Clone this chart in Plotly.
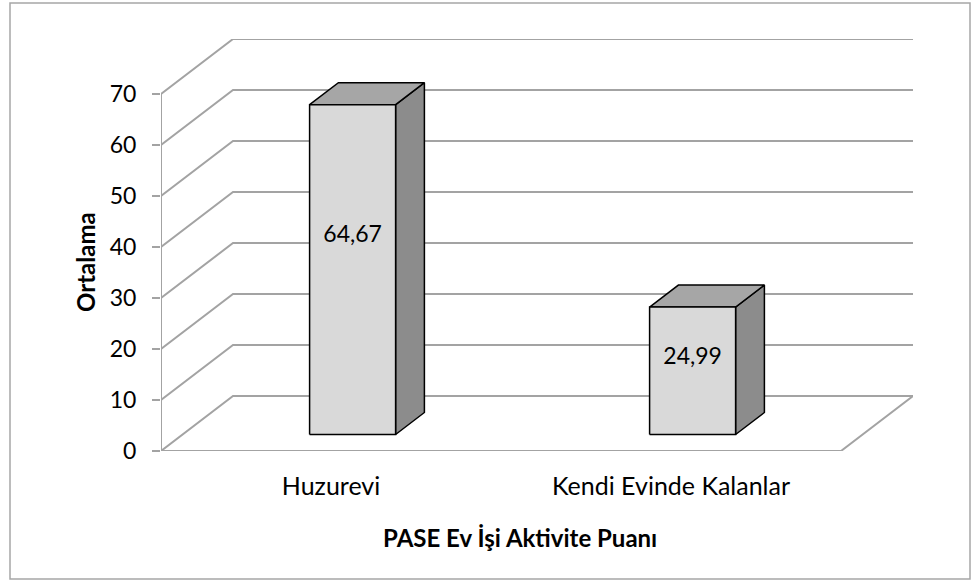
import plotly.graph_objects as go

# ---------------- data ----------------
categories = ["Huzurevi", "Kendi Evinde Kalanlar"]
values = [64.67, 24.99]
value_labels = ["64,67", "24,99"]
y_ticks = [0, 10, 20, 30, 40, 50, 60, 70]
x_title = "PASE Ev İşi Aktivite Puanı"
y_title = "Ortalama"

# ---------------- geometry / style ----------------
W, H = 977, 580
L, R, T, B = 161, 913, 39, 451          # plot area in pixels
PX_PER_CAT = 340.0                       # pixels per category slot
PX_PER_UNIT = 5.1                        # pixels per value unit
DEPTH_PX = (72.0, 55.0)                  # 3D depth offset of back wall
DX = DEPTH_PX[0] / PX_PER_CAT
DY = DEPTH_PX[1] / PX_PER_UNIT
BAR_HALF = 43.0 / PX_PER_CAT
F1, F2 = 0.3, 0.7                        # bar front/back depth fractions
n = len(categories)

GRID = "#a3a3a3"
FRONT = "#d9d9d9"
TOP = "#a6a6a6"
SIDE = "#8c8c8c"
FONT = "Lato"
FS_NUM = 23
FS_CAT = 25
FS_TITLE = 24


def px_x(p):
    return (p - L) / (R - L)


def px_y(p):
    return (B - p) / (B - T)


fig = go.Figure()

# gridlines (front-left diagonal + back wall)
gx, gy = [], []
for v in y_ticks:
    gx += [0, DX, n + DX, None]
    gy += [v, v + DY, v + DY, None]
# floor front edge and right diagonal
gx += [0, n, n + DX, None]
gy += [0, 0, DY, None]
# front vertical axis
gx += [0, 0]
gy += [0, max(y_ticks)]
fig.add_trace(go.Scatter(x=gx, y=gy, mode="lines",
                         line=dict(color=GRID, width=2),
                         hoverinfo="skip", showlegend=False))

# bars
for i, v in enumerate(values):
    c = i + 0.5
    x0, x1 = c - BAR_HALF, c + BAR_HALF
    ox, oy = F1 * DX, F1 * DY
    bx, by = F2 * DX, F2 * DY
    side = ([x1 + ox, x1 + bx, x1 + bx, x1 + ox, x1 + ox],
            [oy, by, v + by, v + oy, oy])
    top = ([x0 + ox, x1 + ox, x1 + bx, x0 + bx, x0 + ox],
           [v + oy, v + oy, v + by, v + by, v + oy])
    front = ([x0 + ox, x1 + ox, x1 + ox, x0 + ox, x0 + ox],
             [oy, oy, v + oy, v + oy, oy])
    for (xs, ys), col in ((side, SIDE), (top, TOP), (front, FRONT)):
        fig.add_trace(go.Scatter(x=xs, y=ys, mode="lines", fill="toself",
                                 fillcolor=col,
                                 line=dict(color="black", width=1.5),
                                 hoverinfo="skip", showlegend=False))
    fig.add_trace(go.Scatter(x=[c + ox], y=[0.6 * v + oy], mode="text",
                             text=[value_labels[i]],
                             textfont=dict(family=FONT, size=FS_NUM, color="black"),
                             hoverinfo="skip", showlegend=False))

fig.update_layout(
    width=W, height=H,
    margin=dict(l=L, r=W - R, t=T, b=H - B, pad=0),
    paper_bgcolor="white", plot_bgcolor="rgba(0,0,0,0)",
    font=dict(family=FONT, size=FS_NUM, color="black"),
    xaxis=dict(range=[0, (R - L) / PX_PER_CAT], showgrid=False, zeroline=False,
               showline=False, tickvals=[i + 0.5 for i in range(n)],
               ticktext=categories, ticks="", ticklabelstandoff=18,
               tickfont=dict(family=FONT, size=FS_CAT, color="black")),
    yaxis=dict(range=[0, (B - T) / PX_PER_UNIT], showgrid=False, zeroline=False,
               showline=False, tickvals=y_ticks, ticks="outside", ticklen=8,
               tickwidth=2, tickcolor=GRID, ticklabelstandoff=11,
               tickfont=dict(family=FONT, size=FS_NUM, color="black")),
    annotations=[
        dict(text="<b>" + x_title + "</b>", xref="paper", yref="paper",
             x=px_x(519.5), y=px_y(537), xanchor="center", yanchor="middle",
             showarrow=False, font=dict(family=FONT, size=FS_TITLE, color="black")),
        dict(text="<b>" + y_title + "</b>", xref="paper", yref="paper",
             x=px_x(85), y=px_y(262), xanchor="center", yanchor="middle",
             textangle=-90, showarrow=False,
             font=dict(family=FONT, size=FS_TITLE, color="black")),
    ],
    shapes=[dict(type="rect", xref="paper", yref="paper",
                 x0=px_x(10), x1=px_x(970), y0=px_y(579), y1=px_y(3),
                 line=dict(color="#a6a6a6", width=1.5), layer="below")],
)

fig.write_html("out.html",
               config={"displayModeBar": False},
               post_script="document.body.style.margin='0';"
                           "document.body.style.overflow='hidden';")
